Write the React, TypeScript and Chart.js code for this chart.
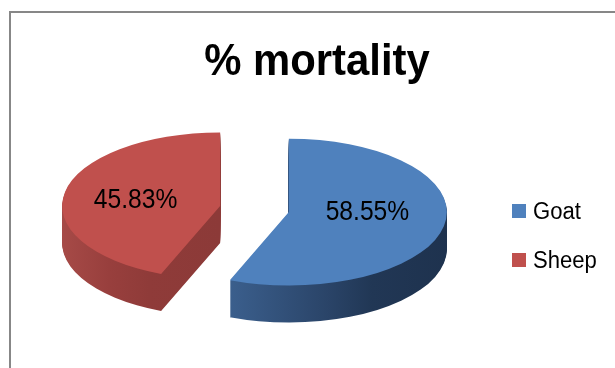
import React, { useEffect, useRef } from "react";
import { Chart, PieController, ArcElement } from "chart.js";

Chart.register(PieController, ArcElement);

const chartTitle = "% mortality";
const categories = ["Goat", "Sheep"];
const mortality = [58.55, 45.83];
const valueLabels = ["58.55%", "45.83%"];
const topColors = ["#4F81BD", "#C0504D"];

// look of the tilted, exploded pie
const TILT = 0.465; // vertical squash of the pie disc
const DEPTH = 37; // thickness of the disc in px
const EXPLODE = 35; // how far each slice is pulled out
const FAMILY = "'Liberation Sans', Arial, sans-serif";

// draws text squeezed horizontally around its anchor point
function condensedText(
  ctx: CanvasRenderingContext2D,
  text: string,
  x: number,
  y: number,
  font: string,
  squeeze: number,
  align: CanvasTextAlign,
  baseline: CanvasTextBaseline
) {
  ctx.save();
  ctx.font = font;
  ctx.fillStyle = "#000";
  ctx.textAlign = align;
  ctx.textBaseline = baseline;
  ctx.translate(x, y);
  ctx.scale(squeeze, 1);
  ctx.fillText(text, 0, 0);
  ctx.restore();
}

function sideFill(ctx: CanvasRenderingContext2D, arc: any, index: number) {
  const x = arc.x;
  if (index === 0) {
    const g = ctx.createLinearGradient(x - 60, 0, x + 160, 0);
    g.addColorStop(0, "#3B5F8D");
    g.addColorStop(0.45, "#2A4468");
    g.addColorStop(0.65, "#213755");
    g.addColorStop(1, "#1E324E");
    return g;
  }
  const g = ctx.createLinearGradient(x - 158, 0, x, 0);
  g.addColorStop(0, "#A64A47");
  g.addColorStop(0.3, "#983F3D");
  g.addColorStop(0.55, "#8F3B39");
  g.addColorStop(1, "#8C3A38");
  return g;
}

function explodeShift(arc: any): [number, number] {
  const mid = (arc.startAngle + arc.endAngle) / 2;
  return [Math.cos(mid) * EXPLODE, Math.sin(mid) * EXPLODE];
}

const pie3d = {
  id: "pie3d",
  beforeDatasetsDraw(chart: any) {
    const ctx: CanvasRenderingContext2D = chart.ctx;
    const arcs = chart.getDatasetMeta(0).data;
    if (!arcs.length) return;
    const cy = arcs[0].y;
    ctx.save();
    ctx.translate(0, cy);
    ctx.scale(1, TILT);
    ctx.translate(0, -cy);
    // side walls: the slice outline stacked downwards
    for (let d = DEPTH; d >= 1; d--) {
      arcs.forEach((arc: any, i: number) => {
        const [ox, oy] = explodeShift(arc);
        ctx.save();
        ctx.translate(ox, oy + d / TILT);
        const wall = Object.create(arc);
        wall.options = { ...arc.options, backgroundColor: sideFill(ctx, arc, i) };
        ArcElement.prototype.draw.call(wall, ctx);
        ctx.restore();
      });
    }
    // top faces
    arcs.forEach((arc: any) => {
      const [ox, oy] = explodeShift(arc);
      ctx.save();
      ctx.translate(ox, oy);
      arc.draw(ctx);
      ctx.restore();
    });
    ctx.restore();
    return false;
  },
  afterDraw(chart: any) {
    const ctx: CanvasRenderingContext2D = chart.ctx;
    const arcs = chart.getDatasetMeta(0).data;
    const cy = arcs[0].y;

    // value labels on the slices
    const labelNudge = [[1, -7], [-7, 1]];
    arcs.forEach((arc: any, i: number) => {
      const p = arc.tooltipPosition();
      const [ox, oy] = explodeShift(arc);
      const sx = p.x + ox + labelNudge[i][0];
      const sy = cy + (p.y + oy - cy) * TILT + labelNudge[i][1];
      condensedText(ctx, valueLabels[i], sx, sy, `28px ${FAMILY}`, 0.88, "center", "middle");
    });

    // legend
    categories.forEach((name, i) => {
      const top = 204 + i * 49;
      ctx.fillStyle = topColors[i];
      ctx.fillRect(512, top, 14, 14);
      condensedText(ctx, name, 533, top + 15, `23px ${FAMILY}`, 0.96, "left", "alphabetic");
    });

    // title
    condensedText(ctx, chartTitle, 317, 75, `bold 45px ${FAMILY}`, 0.93, "center", "alphabetic");

    // chart frame
    ctx.save();
    ctx.strokeStyle = "#878787";
    ctx.lineWidth = 2;
    ctx.beginPath();
    ctx.moveTo(10, chart.height + 2);
    ctx.lineTo(10, 12);
    ctx.lineTo(chart.width + 2, 12);
    ctx.stroke();
    ctx.restore();
  },
};

export default function App() {
  const canvasRef = useRef<HTMLCanvasElement | null>(null);

  useEffect(() => {
    const canvas = canvasRef.current;
    if (!canvas) return;
    const chart = new Chart(canvas, {
      type: "pie",
      data: {
        labels: categories,
        datasets: [
          {
            data: mortality,
            backgroundColor: topColors,
            borderWidth: 0,
            clip: false,
          },
        ],
      },
      options: {
        animation: false,
        responsive: false,
        devicePixelRatio: 1,
        events: [],
        radius: 158,
        layout: { padding: { left: 0, right: 106, top: 50, bottom: 0 } },
        plugins: {
          legend: { display: false },
          tooltip: { enabled: false },
        },
      },
      plugins: [pie3d],
    });
    return () => chart.destroy();
  }, []);

  return (
    <div
      style={{
        position: "absolute",
        left: 0,
        top: 0,
        width: 615,
        height: 368,
        overflow: "hidden",
        background: "#fff",
      }}
    >
      <canvas ref={canvasRef} width={615} height={368} style={{ display: "block" }} />
    </div>
  );
}
